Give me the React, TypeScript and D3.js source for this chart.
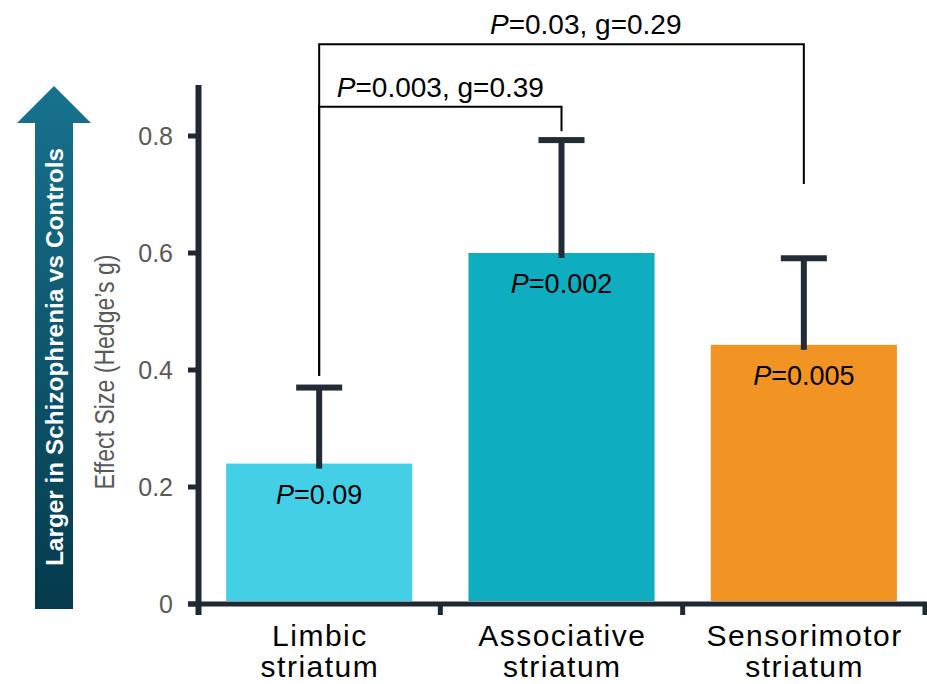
import React from "react";
import * as d3 from "d3";

const catLine1 = ["Limbic", "Associative", "Sensorimotor"];
const catLine2 = ["striatum", "striatum", "striatum"];
const effect = [0.24, 0.6, 0.443];
const upper = [0.37, 0.793, 0.591];
const pValues = ["0.09", "0.002", "0.005"];
const yTicks = [0, 0.2, 0.4, 0.6, 0.8];
const yTickLabels = ["0", "0.2", "0.4", "0.6", "0.8"];
const barColors = ["#43d0e6", "#0eadc0", "#f29423"];

// comparisons: from/to category index, bracket level, end levels, p, g
const cmpFrom = [0, 0];
const cmpTo = [1, 2];
const cmpLevel = [0.85, 0.957];
const cmpFromEnd = [0.39, 0.39];
const cmpToEnd = [0.808, 0.718];
const cmpP = ["0.003", "0.03"];
const cmpG = ["0.39", "0.29"];
const cmpLabelT = [0.5, 0.55];

const W = 927;
const H = 684;
const FONT = "'Liberation Sans', Arial, sans-serif";
const AXIS = "#1f2933";
const ERR = "#222b36";

export default function App() {
  const x = d3
    .scaleBand<number>()
    .domain(d3.range(catLine1.length))
    .range([198, 925])
    .paddingInner(0.232)
    .paddingOuter(0.116);
  const y = d3.scaleLinear().domain([0, 0.8]).range([604, 136]);
  const cx = (i: number) => (x(i) as number) + x.bandwidth() / 2;
  const step = x.step();
  const bandEdges = d3.range(catLine1.length + 1).map((i) => 198 + i * step);

  const axisX = 198.5;
  const baseY = y(0);

  return (
    <svg
      width={W}
      height={H}
      style={{ position: "absolute", left: 0, top: 0, background: "#fff" }}
      fontFamily={FONT}
    >
      <defs>
        <linearGradient id="arrowGrad" x1="0" y1="0" x2="0" y2="1">
          <stop offset="0%" stopColor="#17728f" />
          <stop offset="100%" stopColor="#053a4c" />
        </linearGradient>
      </defs>

      {/* Big arrow */}
      <path
        d={`M54,86 L91,123 L73,123 L73,609 L35,609 L35,123 L17,123 Z`}
        fill="url(#arrowGrad)"
      />
      <text
        transform="translate(63,357) rotate(-90)"
        textAnchor="middle"
        fill="#fff"
        fontWeight="bold"
        fontSize={24}
        textLength={418}
        lengthAdjust="spacingAndGlyphs"
      >
        Larger in Schizophrenia vs Controls
      </text>

      {/* Y title */}
      <text
        transform="translate(114,372) rotate(-90)"
        textAnchor="middle"
        fill="#595959"
        fontSize={28}
        textLength={235}
        lengthAdjust="spacingAndGlyphs"
      >
        Effect Size (Hedge’s g)
      </text>

      {/* bars */}
      {effect.map((v, i) => (
        <rect
          key={"b" + i}
          x={x(i)}
          y={y(v)}
          width={x.bandwidth()}
          height={baseY - 3 - y(v)}
          fill={barColors[i]}
        />
      ))}

      {/* error bars */}
      {upper.map((u, i) => (
        <g key={"e" + i} fill={ERR}>
          <rect x={cx(i) - 3} y={y(u)} width={6} height={y(effect[i]) - y(u) + 5} />
          <rect x={cx(i) - 23} y={y(u) - 3} width={46} height={6} />
        </g>
      ))}

      {/* in-bar p labels */}
      {pValues.map((p, i) => (
        <text
          key={"p" + i}
          x={cx(i)}
          y={y(effect[i]) + 40}
          textAnchor="middle"
          fontSize={27}
          fill="#000"
        >
          <tspan fontStyle="italic">P</tspan>={p}
        </text>
      ))}

      {/* axes */}
      <rect x={axisX - 3} y={85} width={6} height={615 - 85} fill={AXIS} />
      <rect x={188} y={baseY - 2.5} width={927 - 188} height={5} fill={AXIS} />
      {bandEdges.slice(1).map((bx, i) => (
        <rect key={"xt" + i} x={bx - 2.5} y={baseY} width={5} height={11} fill={AXIS} />
      ))}
      {yTicks.map((t, i) => (
        <g key={"yt" + i}>
          <rect x={188} y={y(t) - 2.5} width={12} height={5} fill={AXIS} />
          <text
            x={173}
            y={y(t)}
            dy="0.36em"
            textAnchor="end"
            fontSize={25}
            fill="#595959"
          >
            {yTickLabels[i]}
          </text>
        </g>
      ))}

      {/* category labels */}
      {catLine1.map((c, i) => (
        <g key={"c" + i}>
          <text
            x={cx(i) + 0.75}
            y={646}
            textAnchor="middle"
            fontSize={30}
            letterSpacing={1.5}
            fill="#000"
          >
            {c}
          </text>
          <text
            x={cx(i) + 0.75}
            y={677}
            textAnchor="middle"
            fontSize={30}
            letterSpacing={1.5}
            fill="#000"
          >
            {catLine2[i]}
          </text>
        </g>
      ))}

      {/* comparison brackets */}
      {cmpFrom.map((f, k) => {
        const t = cmpTo[k];
        const x1 = cx(f);
        const x2 = cx(t);
        const yl = y(cmpLevel[k]);
        const lx = x1 + (x2 - x1) * cmpLabelT[k];
        return (
          <g key={"cmp" + k}>
            <path
              d={`M${x1},${y(cmpFromEnd[k])} V${yl} H${x2} V${y(cmpToEnd[k])}`}
              fill="none"
              stroke="#000"
              strokeWidth={2}
            />
            <text x={lx} y={yl - 10} textAnchor="middle" fontSize={28} fill="#000">
              <tspan fontStyle="italic">P</tspan>={cmpP[k]}, g={cmpG[k]}
            </text>
          </g>
        );
      })}
    </svg>
  );
}
